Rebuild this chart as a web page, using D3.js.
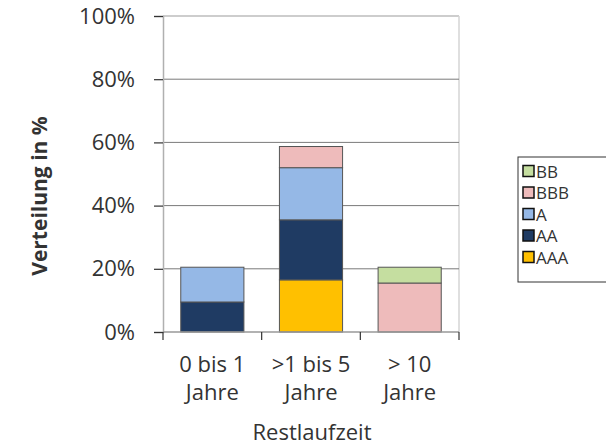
<!DOCTYPE html>
<html>
<head>
<meta charset="utf-8">
<script src="https://cdn.jsdelivr.net/npm/d3@7"></script>
<style>
  body { margin: 0; background: #fff; }
  text { font-family: "Open Sans", sans-serif; fill: #333; }
</style>
</head>
<body>
<script>
'use strict';

// categories and rating series (percent of portfolio)
const categories = ["0 bis 1|Jahre", ">1 bis 5|Jahre", "> 10|Jahre"];
const ratings = ["AAA", "AA", "A", "BBB", "BB"];
const AAA = [0, 16.5, 0];
const AA = [9.5, 19, 0];
const A = [11, 16.5, 0];
const BBB = [0, 6.7, 15.5];
const BB = [0, 0, 5];
const yTicks = [0, 20, 40, 60, 80, 100];

const colors = {
  AAA: "#ffc000",
  AA: "#1f3b63",
  A: "#95b8e6",
  BBB: "#eebbbb",
  BB: "#c5dea0"
};

const series = { AAA, AA, A, BBB, BB };

const m = { left: 163, right: 459, top: 16, bottom: 332 };

const svg = d3.select('body')
  .append('svg')
  .attr('width', 606)
  .attr('height', 447);

const x = d3.scaleBand()
  .domain(categories)
  .range([m.left, m.right])
  .paddingInner(0.36)
  .paddingOuter(0.18);

const y = d3.scaleLinear()
  .domain([0, 100])
  .range([m.bottom, m.top]);

// build table for stack
const table = categories.map((c, i) => {
  const row = { cat: c };
  ratings.forEach(r => row[r] = series[r][i]);
  return row;
});
const stacked = d3.stack().keys(ratings)(table);

// plot border (light gray)
svg.append('line')
  .attr('x1', m.left).attr('x2', m.right)
  .attr('y1', y(100)).attr('y2', y(100))
  .attr('stroke', '#bdbdbd').attr('stroke-width', 1.5);
svg.append('line')
  .attr('x1', m.right).attr('x2', m.right)
  .attr('y1', m.top).attr('y2', m.bottom)
  .attr('stroke', '#d4d4d4').attr('stroke-width', 1.5);

// gridlines
svg.append('g')
  .selectAll('line')
  .data(yTicks.filter(t => t > 0 && t < 100))
  .enter()
  .append('line')
  .attr('x1', m.left).attr('x2', m.right)
  .attr('y1', d => y(d)).attr('y2', d => y(d))
  .attr('stroke', '#7a7a7a').attr('stroke-width', 1);

// bars
svg.append('g')
  .selectAll('g')
  .data(stacked)
  .enter()
  .append('g')
  .attr('fill', d => colors[d.key])
  .selectAll('rect')
  .data(d => d.filter(s => s[1] - s[0] > 0))
  .enter()
  .append('rect')
  .attr('x', d => x(d.data.cat))
  .attr('y', d => y(d[1]))
  .attr('width', x.bandwidth())
  .attr('height', d => y(d[0]) - y(d[1]))
  .attr('stroke', '#555')
  .attr('stroke-width', 1);

// y axis
const yAxis = svg.append('g')
  .attr('transform', 'translate(' + m.left + ',0)')
  .call(d3.axisLeft(y).tickValues(yTicks).tickSize(9).tickPadding(19).tickFormat(d => d + '%'));
yAxis.select('.domain').attr('stroke', '#b0b0b0').attr('stroke-width', 1.5);
yAxis.selectAll('.tick line').attr('stroke', '#333').attr('stroke-width', 1.2);
yAxis.selectAll('text').style('font-size', '22px').attr('fill', '#333');

// x axis
const xAxis = svg.append('g')
  .attr('transform', 'translate(0,' + m.bottom + ')');
xAxis.append('line')
  .attr('x1', m.left).attr('x2', m.right)
  .attr('stroke', '#999').attr('stroke-width', 1.5);
const bounds = [m.left].concat(categories.map(c => x(c) + x.bandwidth() + x.step() * x.paddingInner() / 2));
bounds[bounds.length - 1] = m.right;
xAxis.selectAll('.xt')
  .data(bounds)
  .enter()
  .append('line')
  .attr('x1', d => d).attr('x2', d => d)
  .attr('y1', 0).attr('y2', 8)
  .attr('stroke', '#333').attr('stroke-width', 1.2);

const labels = xAxis.selectAll('.xl')
  .data(categories)
  .enter()
  .append('text')
  .attr('text-anchor', 'middle')
  .style('font-size', '22px')
  .attr('transform', d => 'translate(' + (x(d) + x.bandwidth() / 2) + ',0)');
labels.append('tspan').attr('x', 0).attr('y', 40).text(d => d.split('|')[0]);
labels.append('tspan').attr('x', 0).attr('y', 68).text(d => d.split('|')[1]);

// axis titles
svg.append('text')
  .attr('x', 312).attr('y', 440)
  .attr('text-anchor', 'middle')
  .style('font-size', '22px')
  .text('Restlaufzeit');

svg.append('text')
  .attr('transform', 'translate(47,196)rotate(-90)')
  .attr('text-anchor', 'middle')
  .style('font-size', '21px')
  .style('font-weight', 'bold')
  .text('Verteilung in %');

// legend
const legend = svg.append('g').attr('transform', 'translate(518,157)');
legend.append('rect')
  .attr('x', 0).attr('y', 0)
  .attr('width', 100).attr('height', 125)
  .attr('fill', '#fff').attr('stroke', '#333').attr('stroke-width', 1);
const legendKeys = ratings.slice().reverse();
const li = legend.selectAll('.li')
  .data(legendKeys)
  .enter()
  .append('g')
  .attr('transform', (d, i) => 'translate(5,' + (14 + i * 21.5) + ')');
li.append('rect')
  .attr('x', 0).attr('y', -5.5)
  .attr('width', 11).attr('height', 11)
  .attr('fill', d => colors[d])
  .attr('stroke', '#111').attr('stroke-width', 1.5);
li.append('text')
  .attr('x', 13).attr('y', 6.5)
  .style('font-size', '17px')
  .attr('fill', '#222')
  .text(d => d);
</script>
</body>
</html>
